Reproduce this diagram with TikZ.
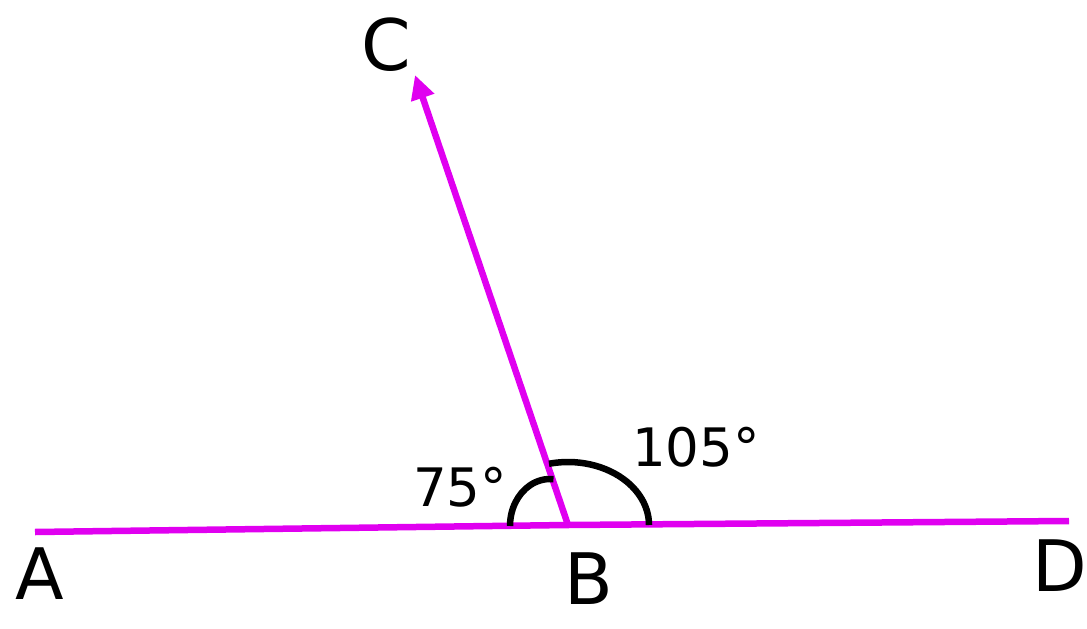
\documentclass[tikz,border=0pt]{standalone}
\usepackage{fontspec}
\setmainfont{DejaVu Sans}
\usetikzlibrary{arrows.meta}
\definecolor{ray}{RGB}{224,0,240}
\begin{document}
\begin{tikzpicture}[x=1pt,y=-1pt,
  rayline/.style={draw=ray,line width=6.5pt},
  anglearc/.style={draw=black,line width=6.5pt},
  ptlabel/.style={font=\fontsize{71}{71}\selectfont,inner sep=0pt,anchor=center},
  anglabel/.style={font=\fontsize{53}{53}\selectfont,inner sep=0pt,anchor=center}]
\useasboundingbox (0,0) rectangle (1087,629);
\coordinate (A) at (35,532);
\coordinate (B) at (568,525);
\coordinate (D) at (1069,521);
\coordinate (C) at (415,75);
\draw[rayline] (A) -- (B) -- (D);
\draw[rayline,-{Triangle[length=24pt,width=23pt]}] (B) -- (C);
\draw[anglearc] (510,526) arc[start angle=180,end angle=275,x radius=40,y radius=47];
\draw[anglearc] (B) ++(-103.6:81 and 63) arc[start angle=-103.6,end angle=0,x radius=81,y radius=63];
\node[ptlabel] (lA) at (40,574) {A};
\node[ptlabel] (lB) at (589,579) {B};
\node[ptlabel] (lC) at (386,45) {C};
\node[ptlabel] (lD) at (1060,566) {D};
\node[anglabel] (a75) at (460,487) {75°};
\node[anglabel] (a105) at (696,447) {105°};
\end{tikzpicture}
\end{document}
